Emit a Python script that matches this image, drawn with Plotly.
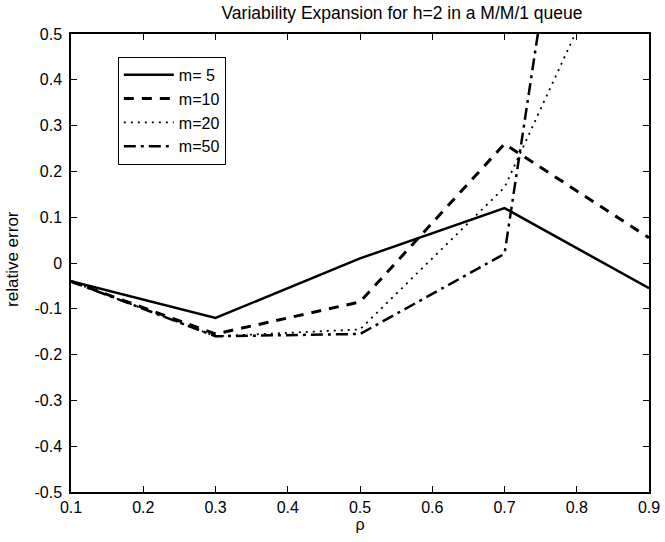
import plotly.graph_objects as go

rho = [0.1, 0.3, 0.5, 0.7, 0.9]
err_m5 = [-0.04, -0.12, 0.01, 0.12, -0.055]
err_m10 = [-0.04, -0.155, -0.085, 0.26, 0.055]
err_m20 = [-0.04, -0.16, -0.145, 0.165, 0.85]
err_m50 = [-0.04, -0.16, -0.155, 0.02, 2.1]

x_ticks = [0.1, 0.2, 0.3, 0.4, 0.5, 0.6, 0.7, 0.8, 0.9]
x_ticktext = ["0.1", "0.2", "0.3", "0.4", "0.5", "0.6", "0.7", "0.8", "0.9"]
y_ticks = [-0.5, -0.4, -0.3, -0.2, -0.1, 0, 0.1, 0.2, 0.3, 0.4, 0.5]
y_ticktext = ["-0.5", "-0.4", "-0.3", "-0.2", "-0.1", "0", "0.1", "0.2", "0.3", "0.4", "0.5"]

series = [
    ("m= 5", err_m5, "solid", 2.5),
    ("m=10", err_m10, "10px,8px", 3),
    ("m=20", err_m20, "2px,5px", 1.8),
    ("m=50", err_m50, "12px,5px,3px,5px", 2.5),
]

fig = go.Figure()
for name, ys, dash, w in series:
    fig.add_trace(go.Scatter(x=rho, y=ys, mode="lines", name=name,
                             line=dict(color="black", width=w, dash=dash)))

font = "Liberation Sans, Arial, sans-serif"
axis_common = dict(showline=True, linecolor="black", linewidth=1.5, mirror="ticks",
                   ticks="inside", ticklen=6, tickcolor="black", showgrid=False,
                   zeroline=False, automargin=False,
                   tickfont=dict(family=font, size=16, color="black"))

fig.update_layout(
    width=665, height=542,
    margin=dict(l=71, r=16, t=34, b=50),
    paper_bgcolor="white", plot_bgcolor="white",
    title=dict(text="Variability Expansion for h=2 in a M/M/1 queue",
               x=0.6045, xanchor="center", y=0.977, yanchor="middle",
               font=dict(family=font, size=17.5, color="black")),
    xaxis=dict(range=[0.1, 0.9], tickvals=x_ticks, ticktext=x_ticktext,
               title=dict(text="ρ", font=dict(family=font, size=16, color="black"), standoff=2),
               **axis_common),
    yaxis=dict(range=[-0.5, 0.5], tickvals=y_ticks, ticktext=y_ticktext,
               ticklabelstandoff=4, **axis_common),
    annotations=[dict(text="relative error", textangle=-90, xref="paper", yref="paper",
                      x=-0.1003, y=0.509, xanchor="center", yanchor="middle", showarrow=False,
                      font=dict(family=font, size=17, color="black"))],
    legend=dict(x=0.081, y=0.95, xanchor="left", yanchor="top",
                bgcolor="white", bordercolor="black", borderwidth=1,
                font=dict(family=font, size=16, color="black"),
                itemwidth=50, tracegroupgap=0),
    showlegend=True,
)

fig.write_html("out.html", config={"displayModeBar": False},
               post_script="document.body.style.margin='0px';")
